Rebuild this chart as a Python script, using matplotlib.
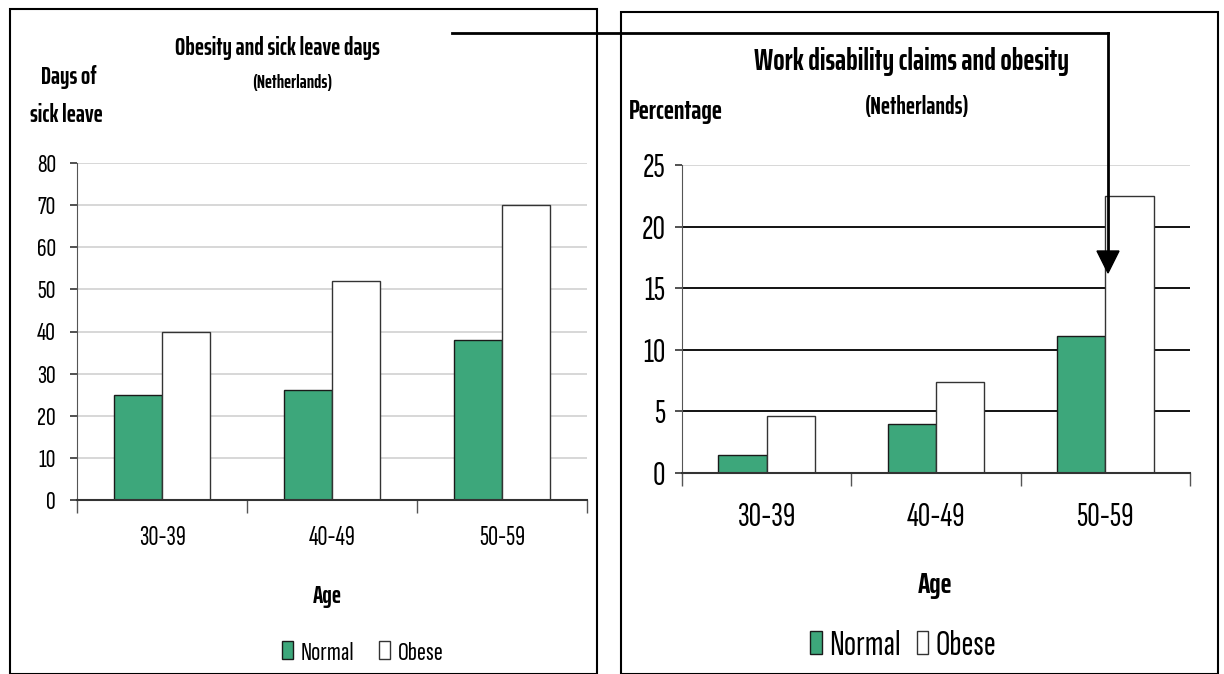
import matplotlib
matplotlib.use("Agg")
import matplotlib.pyplot as plt
import numpy as np
from matplotlib.patches import Rectangle, Polygon
from matplotlib.lines import Line2D

REG = ['Sofia Sans Extra Condensed', 'DejaVu Sans']
BOLD = ['Saira ExtraCondensed', 'DejaVu Sans']
plt.rcParams['font.family'] = REG

age_groups = ["30-39", "40-49", "50-59"]
sick_normal = [25, 26, 38]
sick_obese = [40, 52, 70]
disab_normal = [1.5, 4.0, 11.1]
disab_obese = [4.6, 7.4, 22.5]
series_labels = ["Normal", "Obese"]

GREEN = '#3da77b'
W, H = 1224, 674
fig = plt.figure(figsize=(W/100, H/100), dpi=100)

def ax_px(x0, y0, x1, y1):
    return fig.add_axes([x0/W, 1-y1/H, (x1-x0)/W, (y1-y0)/H])

def draw(ax, normal, obese, ymax, step, grid_colors, tick_fs, cat_fs, cat_pad, ypad):
    x = np.arange(len(age_groups))
    bw = 0.285
    ax.bar(x - bw/2, normal, bw, color=GREEN, edgecolor='#1a1a1a', linewidth=1.0, zorder=3)
    ax.bar(x + bw/2, obese, bw, color='white', edgecolor='#333333', linewidth=1.0, zorder=3)
    ax.set_xlim(-0.5, len(age_groups)-0.5)
    ax.set_ylim(0, ymax)
    ticks = np.arange(0, ymax+step/2, step)
    ax.set_yticks(ticks)
    ax.set_yticklabels([str(int(t)) for t in ticks], fontsize=tick_fs)
    for t, c in zip(ticks[1:], grid_colors):
        ax.axhline(t, color=c, lw=1.3, zorder=1)
    ax.set_xticks(x)
    ax.set_xticklabels(age_groups, fontsize=cat_fs)
    ax.tick_params(axis='x', length=0, pad=cat_pad)
    ax.set_xticks(np.arange(-0.5, len(age_groups)), minor=True)
    ax.tick_params(axis='x', which='minor', length=9, width=1, color='#555555')
    ax.tick_params(axis='y', length=5, width=1.2, color='#333333', pad=ypad)
    for s in ['top', 'right']:
        ax.spines[s].set_visible(False)
    ax.spines['left'].set_color('#555555')
    ax.spines['bottom'].set_color('#333333')
    ax.spines['bottom'].set_linewidth(1.5)
    ax.spines['bottom'].set_zorder(4)

# panel frames
fig.patches.append(Rectangle((10/W, 0), (597-10)/W, 1-9/H, transform=fig.transFigure,
                             fill=False, edgecolor='black', lw=1.5))
fig.patches.append(Rectangle((621/W, 0), (1218-621)/W, 1-12/H, transform=fig.transFigure,
                             fill=False, edgecolor='black', lw=1.5))

def handles():
    return [Rectangle((0, 0), 1, 1, facecolor=GREEN, edgecolor='#1a1a1a', lw=1),
            Rectangle((0, 0), 1, 1, facecolor='white', edgecolor='#333333', lw=1)]

# left chart
axL = ax_px(77, 163, 587, 500)
draw(axL, sick_normal, sick_obese, 80, 10, ['#d4d4d4']*8, 19.5, 20, 19, 10)
fig.text(277/W, 1-48/H, "Obesity and sick leave days", ha='center', va='center', fontsize=17.5, fontweight='bold', family=BOLD)
fig.text(292/W, 1-83/H, "(Netherlands)", ha='center', va='center', fontsize=13.5, fontweight='bold', family=BOLD)
fig.text(69/W, 1-77/H, "Days of", ha='center', va='center', fontsize=17.5, fontweight='bold', family=BOLD)
fig.text(66/W, 1-115/H, "sick leave", ha='center', va='center', fontsize=17.5, fontweight='bold', family=BOLD)
fig.text(327/W, 1-596/H, "Age", ha='center', va='center', fontsize=17.5, fontweight='bold', family=BOLD)
fig.legend(handles(), series_labels, loc='center', bbox_to_anchor=(363/W, 1-653/H), ncol=2,
           frameon=False, fontsize=19.5, handlelength=0.4, handleheight=0.6, handletextpad=0.3,
           columnspacing=0.9, borderpad=0)

# right chart
axR = ax_px(682, 165, 1190, 473)
draw(axR, disab_normal, disab_obese, 25, 5, ['black']*4 + ['#d4d4d4'], 25, 25, 21, 7)
fig.text(912/W, 1-62/H, "Work disability claims and obesity", ha='center', va='center', fontsize=21.5, fontweight='bold', family=BOLD)
fig.text(917/W, 1-107/H, "(Netherlands)", ha='center', va='center', fontsize=17.5, fontweight='bold', family=BOLD)
fig.text(676/W, 1-112/H, "Percentage", ha='center', va='center', fontsize=19.5, fontweight='bold', family=BOLD)
fig.text(935/W, 1-585/H, "Age", ha='center', va='center', fontsize=21, fontweight='bold', family=BOLD)
fig.legend(handles(), series_labels, loc='center', bbox_to_anchor=(903/W, 1-646/H), ncol=2,
           frameon=False, fontsize=26, handlelength=0.32, handleheight=0.6, handletextpad=0.2,
           columnspacing=0.45, borderpad=0)

# connector arrow
fig.lines.append(Line2D([452/W, 1108/W], [1-33/H, 1-33/H], transform=fig.transFigure,
                        color='black', lw=2, zorder=9))
fig.lines.append(Line2D([1108/W, 1108/W], [1-33/H, 1-255/H], transform=fig.transFigure,
                        color='black', lw=2, zorder=9))
fig.patches.append(Polygon([[1097/W, 1-251/H], [1119/W, 1-251/H], [1108/W, 1-273/H]],
                           closed=True, transform=fig.transFigure, facecolor='black',
                           edgecolor='black', zorder=10))

fig.savefig("out.png", dpi=100)
